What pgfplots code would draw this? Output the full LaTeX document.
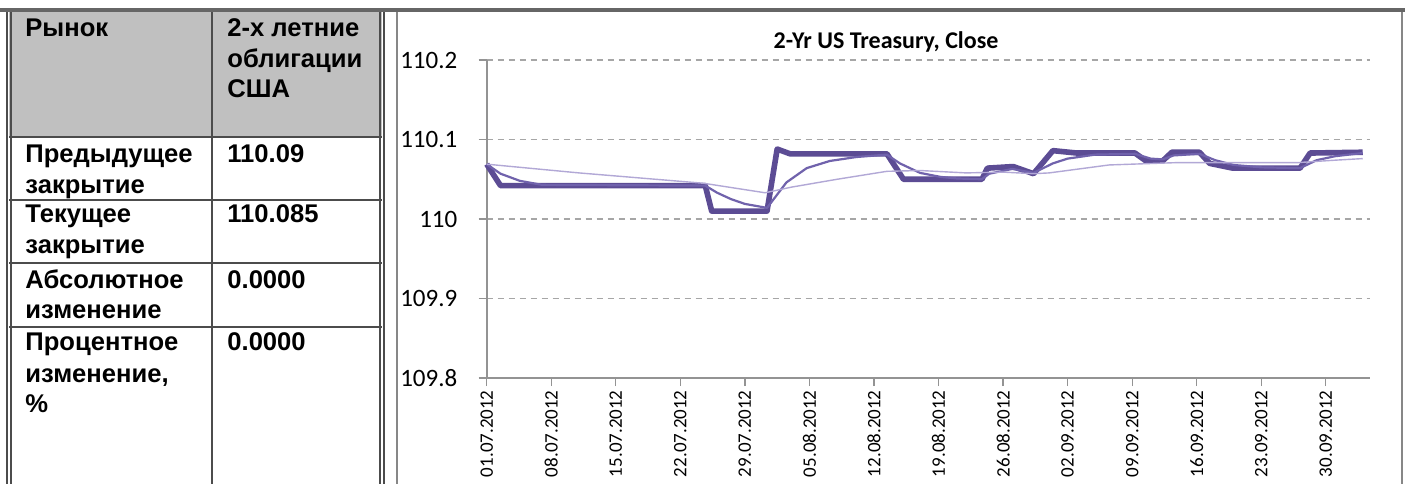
\documentclass[border=0pt]{standalone}
\usepackage{fontspec}
\setmainfont{Liberation Sans}
\newfontfamily\calfont{Carlito}
\usepackage{pgfplots}
\pgfplotsset{compat=1.18}
\definecolor{closec}{RGB}{92,76,148}
\definecolor{mac}{RGB}{112,98,172}
\definecolor{lmac}{RGB}{178,168,214}
\definecolor{hdr}{RGB}{192,192,192}
\definecolor{frm}{RGB}{135,135,135}
\newcommand\tl[3]{\node[anchor=base west, inner sep=0pt, font=\fontsize{12.8}{14}\selectfont\bfseries] at (#1,#2) {#3};}
\begin{document}
\begin{tikzpicture}
\begin{scope}[x=0.5pt,y=-0.5pt]
\useasboundingbox (0,0) rectangle (1413,484);
\fill[white] (0,0) rectangle (1413,484);
\fill[hdr] (9,12) rectangle (382,137);
% table lines
\draw[black!70, line width=0.6pt] (7,12) -- (7,484);
\draw[black!70, line width=0.6pt] (11,12) -- (11,484);
\draw[black!70, line width=0.6pt] (380,12) -- (380,484);
\draw[black!70, line width=0.6pt] (384,12) -- (384,484);
\draw[black!70, line width=0.7pt] (212,12) -- (212,484);
\foreach \yy in {137,200,263,327} \draw[black!70, line width=0.7pt] (9,\yy) -- (382,\yy);
% chart frame
\draw[frm, line width=0.8pt] (397,12) -- (397,484);
\draw[frm, line width=0.8pt] (1402,12) -- (1402,484);
\draw[black!60, line width=2pt] (0,10) -- (1405,10);
% table text
\tl{25}{36}{Рынок}
\tl{227}{36}{2-х летние}
\tl{227}{67}{облигации}
\tl{227}{97}{США}
\tl{25}{162}{Предыдущее}
\tl{25}{193}{закрытие}
\tl{227}{162}{110.09}
\tl{25}{222}{Текущее}
\tl{25}{253}{закрытие}
\tl{227}{222}{110.085}
\tl{25}{288}{Абсолютное}
\tl{25}{318}{изменение}
\tl{227}{288}{0.0000}
\tl{25}{350}{Процентное}
\tl{25}{382}{изменение,}
\tl{25}{412}{\%}
\tl{227}{350}{0.0000}
% chart title
\node[anchor=base, inner sep=0pt, font=\calfont\bfseries\fontsize{12}{12}\selectfont] at (886,48) {2-Yr US Treasury, Close};
\end{scope}
\begin{axis}[
  at={(243.35pt,-189pt)}, anchor=south west,
  scale only axis, width=441.7pt, height=159pt,
  xmin=0, xmax=95.8, ymin=109.8, ymax=110.2,
  axis x line*=bottom, axis y line*=left,
  axis line style={gray!85, line width=0.8pt, -},
  xtick={0,7,...,91},
  xticklabels={01.07.2012,08.07.2012,15.07.2012,22.07.2012,29.07.2012,05.08.2012,12.08.2012,19.08.2012,26.08.2012,02.09.2012,09.09.2012,16.09.2012,23.09.2012,30.09.2012},
  ytick={109.8,109.9,110,110.1,110.2},
  yticklabels={109.8,109.9,110,110.1,110.2},
  tick align=outside, major tick length=4pt,
  tick style={gray!85, line width=0.6pt},
  xticklabel style={font=\calfont\fontsize{9.5}{10}\selectfont, rotate=90, anchor=east, inner xsep=2pt, inner ysep=0pt},
  yticklabel style={font=\calfont\fontsize{12.5}{12.5}\selectfont, anchor=east, inner sep=0pt, xshift=-10.5pt},
  ymajorgrids,
  major grid style={gray!70, line width=0.8pt, dash pattern=on 3pt off 2.5pt},
  clip=false,
]
\addplot[closec, line width=2.8pt, line join=round] coordinates {
(0,110.069) (1.5,110.042) (23.7,110.042) (24.4,110.010) (30.4,110.010)
(31.5,110.088) (32.9,110.082) (43.4,110.082) (45.2,110.050) (53.7,110.050)
(54.3,110.064) (57.1,110.066) (59.3,110.057) (61.4,110.086) (64,110.083)
(70.3,110.083) (71.5,110.073) (73.3,110.073) (74.3,110.084) (77.3,110.084)
(78.4,110.070) (80.9,110.064) (88.2,110.064) (89.3,110.083) (95,110.084)
};
\addplot[mac, line width=1.1pt, line join=round] coordinates {
(0,110.069) (1.5,110.057) (3.6,110.048) (6,110.043) (23.7,110.042)
(25,110.033) (26.5,110.025) (28,110.019) (30.4,110.014) (32.5,110.046)
(34.7,110.064) (37.2,110.073) (40.1,110.078) (43.4,110.081) (44.8,110.070)
(47,110.058) (49.2,110.053) (51,110.051) (53.7,110.050) (54.5,110.057)
(57,110.063) (59.3,110.058) (61.4,110.070) (63,110.076) (66,110.081)
(70.3,110.082) (72,110.076) (73.3,110.075) (74.5,110.080) (77.3,110.082)
(79,110.074) (81,110.068) (84,110.065) (88.2,110.064) (90,110.074)
(92,110.079) (95,110.083)
};
\addplot[lmac, line width=0.7pt, line join=round] coordinates {
(0,110.069) (10,110.058) (23.5,110.045) (30.2,110.033) (33,110.040)
(38,110.050) (43.4,110.060) (47,110.061) (52,110.058) (56,110.059)
(59.3,110.057) (61,110.058) (67.5,110.068) (75,110.071) (82,110.071)
(88,110.071) (92,110.074) (95,110.076)
};
\end{axis}
\end{tikzpicture}
\end{document}
